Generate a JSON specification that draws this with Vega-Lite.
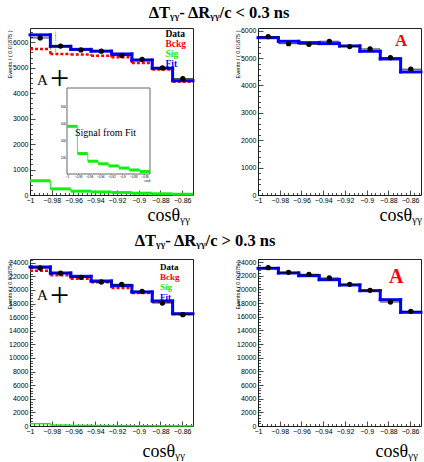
{
"$schema": "https://vega.github.io/schema/vega-lite/v6.json",
"background": "white",
"padding": {"left": 6, "top": 4, "right": 0, "bottom": 0},
"config": {
  "view": {"stroke": "#222222", "strokeWidth": 1},
  "axis": {"domain": false, "grid": false, "labelFont": "Liberation Sans", "labelFontSize": 7, "labelColor": "black", "labelFlush": false, "labelOverlap": false, "tickColor": "black", "tickWidth": 0.7, "titleColor": "black", "titleFontWeight": "normal"},
  "title": {"font": "Liberation Serif", "fontSize": 16.5, "fontWeight": "bold", "color": "black", "anchor": "middle", "offset": 5}
},
"datasets": {
  "tl": [
    {"lo": -1, "hi": -0.98125, "c": -0.990625, "Data": 6170, "Bckg": 5740, "Sig": 560, "Fit": 6290},
    {"lo": -0.98125, "hi": -0.9625, "c": -0.971875, "Data": 5850, "Bckg": 5540, "Sig": 240, "Fit": 5840},
    {"lo": -0.9625, "hi": -0.94375, "c": -0.953125, "Data": 5700, "Bckg": 5520, "Sig": 150, "Fit": 5720},
    {"lo": -0.94375, "hi": -0.925, "c": -0.934375, "Data": 5650, "Bckg": 5470, "Sig": 120, "Fit": 5650},
    {"lo": -0.925, "hi": -0.90625, "c": -0.915625, "Data": 5480, "Bckg": 5410, "Sig": 95, "Fit": 5540},
    {"lo": -0.90625, "hi": -0.8875, "c": -0.896875, "Data": 5330, "Bckg": 5190, "Sig": 70, "Fit": 5300},
    {"lo": -0.8875, "hi": -0.86875, "c": -0.878125, "Data": 4990, "Bckg": 4930, "Sig": 47, "Fit": 4980},
    {"lo": -0.86875, "hi": -0.85, "c": -0.859375, "Data": 4570, "Bckg": 4450, "Sig": 30, "Fit": 4490}
  ],
  "tr": [
    {"lo": -1, "hi": -0.98125, "c": -0.990625, "Data": 5782, "Fit": 5746},
    {"lo": -0.98125, "hi": -0.9625, "c": -0.971875, "Data": 5527, "Fit": 5614},
    {"lo": -0.9625, "hi": -0.94375, "c": -0.953125, "Data": 5505, "Fit": 5565},
    {"lo": -0.94375, "hi": -0.925, "c": -0.934375, "Data": 5615, "Fit": 5530},
    {"lo": -0.925, "hi": -0.90625, "c": -0.915625, "Data": 5420, "Fit": 5445},
    {"lo": -0.90625, "hi": -0.8875, "c": -0.896875, "Data": 5335, "Fit": 5250},
    {"lo": -0.8875, "hi": -0.86875, "c": -0.878125, "Data": 5015, "Fit": 4970},
    {"lo": -0.86875, "hi": -0.85, "c": -0.859375, "Data": 4595, "Fit": 4495}
  ],
  "bl": [
    {"lo": -1, "hi": -0.98125, "c": -0.990625, "Data": 23217, "Bckg": 22820, "Sig": 340, "Fit": 23364},
    {"lo": -0.98125, "hi": -0.9625, "c": -0.971875, "Data": 22450, "Bckg": 22145, "Sig": 130, "Fit": 22482},
    {"lo": -0.9625, "hi": -0.94375, "c": -0.953125, "Data": 21850, "Bckg": 21645, "Sig": 90, "Fit": 21998},
    {"lo": -0.94375, "hi": -0.925, "c": -0.934375, "Data": 21160, "Bckg": 21116, "Sig": 70, "Fit": 21307},
    {"lo": -0.925, "hi": -0.90625, "c": -0.915625, "Data": 20822, "Bckg": 20278, "Sig": 55, "Fit": 20616},
    {"lo": -0.90625, "hi": -0.8875, "c": -0.896875, "Data": 19794, "Bckg": 19544, "Sig": 40, "Fit": 19690},
    {"lo": -0.8875, "hi": -0.86875, "c": -0.878125, "Data": 18074, "Bckg": 18300, "Sig": 30, "Fit": 18368},
    {"lo": -0.86875, "hi": -0.85, "c": -0.859375, "Data": 16355, "Bckg": 16470, "Sig": 20, "Fit": 16502}
  ],
  "br": [
    {"lo": -1, "hi": -0.98125, "c": -0.990625, "Data": 23176, "Fit": 23088},
    {"lo": -0.98125, "hi": -0.9625, "c": -0.971875, "Data": 22502, "Fit": 22400},
    {"lo": -0.9625, "hi": -0.94375, "c": -0.953125, "Data": 22210, "Fit": 22005},
    {"lo": -0.94375, "hi": -0.925, "c": -0.934375, "Data": 21668, "Fit": 21419},
    {"lo": -0.925, "hi": -0.90625, "c": -0.915625, "Data": 20746, "Fit": 20643},
    {"lo": -0.90625, "hi": -0.8875, "c": -0.896875, "Data": 19868, "Fit": 19809},
    {"lo": -0.8875, "hi": -0.86875, "c": -0.878125, "Data": 18154, "Fit": 18491},
    {"lo": -0.86875, "hi": -0.85, "c": -0.859375, "Data": 16793, "Fit": 16646}
  ]
},
"spacing": 8,
"resolve": {"scale": {"color": "independent"}, "legend": {"color": "independent"}},
"vconcat": [
{
  "title": {"text": "ΔTᵧᵧ- ΔRᵧᵧ/c < 0.3 ns", "dx": 4},
  "bounds": "flush",
  "spacing": 65,
  "resolve": {"scale": {"color": "independent"}, "legend": {"color": "independent"}},
  "hconcat": [
    {
      "width": 163, "height": 167,
      "resolve": {"scale": {"x": "independent", "y": "independent"}},
      "layer": [
        {
          "data": {"name": "tl"},
          "transform": [
            {"fold": ["Data", "Bckg", "Sig", "Fit"], "as": ["series", "value"]},
            {"window": [{"op": "lag", "field": "value", "as": "prev"}], "groupby": ["series"], "sort": [{"field": "lo", "order": "ascending"}]}
          ],
          "encoding": {
            "x": {"field": "lo", "type": "quantitative", "scale": {"domain": [-1, -0.85], "nice": false, "zero": false},
              "axis": {"orient": "bottom", "values": [-1,-0.996,-0.992,-0.988,-0.984,-0.98,-0.976,-0.972,-0.968,-0.964,-0.96,-0.956,-0.952,-0.948,-0.944,-0.94,-0.936,-0.932,-0.928,-0.924,-0.92,-0.916,-0.912,-0.908,-0.904,-0.9,-0.896,-0.892,-0.888,-0.884,-0.88,-0.876,-0.872,-0.868,-0.864,-0.86,-0.856,-0.852],
                "format": "~g", "labelExpr": "abs(datum.value*50-round(datum.value*50))<0.01 ? datum.label : ''",
                "tickSize": {"condition": {"test": "abs(datum.value*50-round(datum.value*50))<0.01", "value": -5}, "value": -2.5},
                "labelPadding": 6.5, "labelBaseline": "top",
                "title": "cosθᵧᵧ", "titleFont": "Liberation Serif", "titleFontSize": 18, "titleX": 117, "titleY": 25, "titleAlign": "left", "titleBaseline": "alphabetic"}},
            "y": {"field": "value", "type": "quantitative", "scale": {"domain": [0, 6560], "nice": false},
              "axis": {"orient": "left", "values": [0,200,400,600,800,1000,1200,1400,1600,1800,2000,2200,2400,2600,2800,3000,3200,3400,3600,3800,4000,4200,4400,4600,4800,5000,5200,5400,5600,5800,6000,6200,6400],
                "format": "d", "labelExpr": "datum.value % 1000 === 0 ? datum.label : ''",
                "tickSize": {"condition": {"test": "datum.value % 1000 === 0", "value": -5}, "value": -2.5},
                "labelPadding": 7, "labelBaseline": "middle",
                "title": "Events / ( 0.01875 )", "titleFont": "Liberation Sans", "titleFontSize": 5.5, "titleX": -21, "titleY": 2, "titleAlign": "right", "titleAngle": -90, "titleBaseline": "middle"}},
            "color": {"field": "series", "type": "nominal",
              "scale": {"domain": ["Data", "Bckg", "Sig", "Fit"], "range": ["#000000", "#ff0000", "#11ee11", "#0000ff"]},
              "legend": {"orient": "none", "legendX": 126, "legendY": 1, "title": null, "symbolSize": 0, "symbolOpacity": 0, "symbolStrokeWidth": 0, "labelOffset": 0, "padding": 0, "rowPadding": -2.3,
                "labelFont": "Liberation Serif", "labelFontWeight": "bold", "labelFontSize": 9.5,
                "encode": {"labels": {"update": {"fill": {"signal": "datum.value === 'Data' ? '#000000' : datum.value === 'Bckg' ? '#ff0000' : datum.value === 'Sig' ? '#11ee11' : '#0000ff'"}}}}}}
          },
          "layer": [
            {"transform": [{"filter": "datum.series === 'Bckg'"}], "mark": {"type": "rule", "strokeWidth": 2.5, "strokeDash": [3, 2]}, "encoding": {"x2": {"field": "hi"}}},
            {"transform": [{"filter": "datum.series === 'Bckg' && datum.prev != null"}], "mark": {"type": "rule", "strokeWidth": 2.5, "strokeDash": [3, 2]}, "encoding": {"y2": {"field": "prev"}}},
            {"transform": [{"filter": "datum.series === 'Sig'"}], "mark": {"type": "rule", "strokeWidth": 3}, "encoding": {"x2": {"field": "hi"}}},
            {"transform": [{"filter": "datum.series === 'Sig' && datum.prev != null"}], "mark": {"type": "rule", "strokeWidth": 1}, "encoding": {"y2": {"field": "prev"}}},
            {"transform": [{"filter": "datum.series === 'Fit'"}], "mark": {"type": "rule", "strokeWidth": 3, "strokeCap": "square"}, "encoding": {"x2": {"field": "hi"}}},
            {"transform": [{"filter": "datum.series === 'Fit' && datum.prev != null"}], "mark": {"type": "rule", "strokeWidth": 3, "strokeCap": "square"}, "encoding": {"y2": {"field": "prev"}}},
            {"transform": [{"filter": "datum.series === 'Data'"}], "mark": {"type": "rule", "strokeWidth": 0.8}, "encoding": {"x2": {"field": "hi"}}},
            {"transform": [{"filter": "datum.series === 'Data'"}], "mark": {"type": "point", "filled": true, "size": 28, "opacity": 1}, "encoding": {"x": {"field": "c", "type": "quantitative"}}},
            {"transform": [{"filter": "datum.series === 'Data' && datum.lo === -1"}], "mark": {"type": "text", "text": "A", "font": "Liberation Serif", "fontSize": 15, "align": "left", "baseline": "alphabetic"}, "encoding": {"x": {"datum": -0.9936}, "y": {"datum": 4340}}},
            {"transform": [{"filter": "datum.series === 'Data' && datum.lo === -1"}], "mark": {"type": "text", "text": "+", "font": "Liberation Serif", "fontSize": 34, "align": "center", "baseline": "middle"}, "encoding": {"x": {"datum": -0.9727}, "y": {"datum": 4560}}}
          ]
        },
        {
          "data": {"name": "tl"},
          "transform": [{"window": [{"op": "lag", "field": "Sig", "as": "prevSig"}], "sort": [{"field": "lo", "order": "ascending"}]}],
          "encoding": {
            "x": {"field": "lo", "type": "quantitative", "scale": {"domain": [-1, -0.85], "nice": false, "zero": false, "range": [37, 120]},
              "axis": {"orient": "bottom", "offset": -21, "values": [-1,-0.98,-0.96,-0.94,-0.92,-0.9,-0.88,-0.86], "format": "~g", "labelFontSize": 3, "tickSize": -2, "labelPadding": 3.5, "labelBaseline": "top",
                "title": "cosθ", "titleFont": "Liberation Sans", "titleFontSize": 3, "titleAnchor": "end", "titlePadding": 1}},
            "y": {"field": "Sig", "type": "quantitative", "scale": {"domain": [0, 1010], "nice": false, "range": [146, 60]},
              "axis": {"orient": "left", "offset": -37, "values": [200,400,600,800], "format": "d", "labelFontSize": 3, "tickSize": -2, "labelPadding": 3.5,
                "title": "Events / ( 0.01875 )", "titleFont": "Liberation Sans", "titleFontSize": 2.5, "titleX": -12, "titleY": 2, "titleAlign": "right", "titleAngle": -90, "titleBaseline": "middle"}}
          },
          "layer": [
            {"transform": [{"filter": "datum.lo === -1"}], "mark": {"type": "rect", "fill": "white", "stroke": "#666666", "strokeWidth": 1}, "encoding": {"x": {"datum": -1}, "x2": {"datum": -0.85}, "y": {"datum": 0}, "y2": {"datum": 1010}}},
            {"mark": {"type": "rule", "strokeWidth": 3, "color": "#11ee11"}, "encoding": {"x2": {"field": "hi"}}},
            {"transform": [{"filter": "datum.prevSig != null"}], "mark": {"type": "rule", "strokeWidth": 0.8, "color": "#11ee11"}, "encoding": {"y2": {"field": "prevSig"}}},
            {"transform": [{"filter": "datum.lo === -1"}], "mark": {"type": "text", "text": "Signal from Fit", "font": "Liberation Serif", "fontSize": 10, "align": "left", "baseline": "alphabetic", "color": "black"}, "encoding": {"x": {"datum": -0.9855}, "y": {"datum": 446}}}
          ]
        }
      ]
    },
    {
      "width": 163, "height": 167,
      "data": {"name": "tr"},
      "transform": [
        {"fold": ["Data", "Fit"], "as": ["series", "value"]},
        {"window": [{"op": "lag", "field": "value", "as": "prev"}], "groupby": ["series"], "sort": [{"field": "lo", "order": "ascending"}]}
      ],
      "encoding": {
        "x": {"field": "lo", "type": "quantitative", "scale": {"domain": [-1, -0.85], "nice": false, "zero": false},
          "axis": {"orient": "bottom", "values": [-1,-0.996,-0.992,-0.988,-0.984,-0.98,-0.976,-0.972,-0.968,-0.964,-0.96,-0.956,-0.952,-0.948,-0.944,-0.94,-0.936,-0.932,-0.928,-0.924,-0.92,-0.916,-0.912,-0.908,-0.904,-0.9,-0.896,-0.892,-0.888,-0.884,-0.88,-0.876,-0.872,-0.868,-0.864,-0.86,-0.856,-0.852],
            "format": "~g", "labelExpr": "abs(datum.value*50-round(datum.value*50))<0.01 ? datum.label : ''",
            "tickSize": {"condition": {"test": "abs(datum.value*50-round(datum.value*50))<0.01", "value": -5}, "value": -2.5},
            "labelPadding": 6.5, "labelBaseline": "top",
            "title": "cosθᵧᵧ", "titleFont": "Liberation Serif", "titleFontSize": 18, "titleX": 121, "titleY": 25, "titleAlign": "left", "titleBaseline": "alphabetic"}},
        "y": {"field": "value", "type": "quantitative", "scale": {"domain": [0, 6100], "nice": false},
          "axis": {"orient": "left", "values": [0,200,400,600,800,1000,1200,1400,1600,1800,2000,2200,2400,2600,2800,3000,3200,3400,3600,3800,4000,4200,4400,4600,4800,5000,5200,5400,5600,5800,6000],
            "format": "d", "labelExpr": "datum.value % 1000 === 0 ? datum.label : ''",
            "tickSize": {"condition": {"test": "datum.value % 1000 === 0", "value": -5}, "value": -2.5},
            "labelPadding": 7, "labelBaseline": "middle",
            "title": "Events / ( 0.01875 )", "titleFont": "Liberation Sans", "titleFontSize": 5.5, "titleX": -21, "titleY": 2, "titleAlign": "right", "titleAngle": -90, "titleBaseline": "middle"}}
      },
      "layer": [
        {"transform": [{"filter": "datum.series === 'Fit'"}], "mark": {"type": "rule", "strokeWidth": 3, "strokeCap": "square", "color": "#0000ff"}, "encoding": {"x2": {"field": "hi"}}},
        {"transform": [{"filter": "datum.series === 'Fit' && datum.prev != null"}], "mark": {"type": "rule", "strokeWidth": 3, "strokeCap": "square", "color": "#0000ff"}, "encoding": {"y2": {"field": "prev"}}},
        {"transform": [{"filter": "datum.series === 'Data'"}], "mark": {"type": "rule", "strokeWidth": 0.8, "color": "black"}, "encoding": {"x2": {"field": "hi"}}},
        {"transform": [{"filter": "datum.series === 'Data'"}], "mark": {"type": "point", "filled": true, "size": 28, "opacity": 1, "color": "black"}, "encoding": {"x": {"field": "c", "type": "quantitative"}}},
        {"transform": [{"filter": "datum.series === 'Data' && datum.lo === -1"}], "mark": {"type": "text", "text": "A", "font": "Liberation Serif", "fontWeight": "bold", "fontSize": 17, "color": "#ff0000", "align": "left", "baseline": "alphabetic"}, "encoding": {"x": {"datum": -0.874}, "y": {"datum": 5443}}}
      ]
    }
  ]
},
{
  "title": {"text": "ΔTᵧᵧ- ΔRᵧᵧ/c > 0.3 ns", "dx": -10},
  "bounds": "flush",
  "spacing": 65,
  "resolve": {"scale": {"color": "independent"}, "legend": {"color": "independent"}},
  "hconcat": [
    {
      "width": 163, "height": 167,
      "data": {"name": "bl"},
      "transform": [
        {"fold": ["Data", "Bckg", "Sig", "Fit"], "as": ["series", "value"]},
        {"window": [{"op": "lag", "field": "value", "as": "prev"}], "groupby": ["series"], "sort": [{"field": "lo", "order": "ascending"}]}
      ],
      "encoding": {
        "x": {"field": "lo", "type": "quantitative", "scale": {"domain": [-1, -0.85], "nice": false, "zero": false},
          "axis": {"orient": "bottom", "values": [-1,-0.996,-0.992,-0.988,-0.984,-0.98,-0.976,-0.972,-0.968,-0.964,-0.96,-0.956,-0.952,-0.948,-0.944,-0.94,-0.936,-0.932,-0.928,-0.924,-0.92,-0.916,-0.912,-0.908,-0.904,-0.9,-0.896,-0.892,-0.888,-0.884,-0.88,-0.876,-0.872,-0.868,-0.864,-0.86,-0.856,-0.852],
            "format": "~g", "labelExpr": "abs(datum.value*50-round(datum.value*50))<0.01 ? datum.label : ''",
            "tickSize": {"condition": {"test": "abs(datum.value*50-round(datum.value*50))<0.01", "value": -5}, "value": -2.5},
            "labelPadding": 6.5, "labelBaseline": "top",
            "title": "cosθᵧᵧ", "titleFont": "Liberation Serif", "titleFontSize": 18, "titleX": 112, "titleY": 30, "titleAlign": "left", "titleBaseline": "alphabetic"}},
        "y": {"field": "value", "type": "quantitative", "scale": {"domain": [0, 24540], "nice": false},
          "axis": {"orient": "left", "values": [0,400,800,1200,1600,2000,2400,2800,3200,3600,4000,4400,4800,5200,5600,6000,6400,6800,7200,7600,8000,8400,8800,9200,9600,10000,10400,10800,11200,11600,12000,12400,12800,13200,13600,14000,14400,14800,15200,15600,16000,16400,16800,17200,17600,18000,18400,18800,19200,19600,20000,20400,20800,21200,21600,22000,22400,22800,23200,23600,24000,24400],
            "format": "d", "labelExpr": "datum.value % 2000 === 0 ? datum.label : ''",
            "tickSize": {"condition": {"test": "datum.value % 2000 === 0", "value": -5}, "value": -2.5},
            "labelPadding": 7, "labelBaseline": "middle",
            "title": "Events / ( 0.01875 )", "titleFont": "Liberation Sans", "titleFontSize": 5.5, "titleX": -21, "titleY": 2, "titleAlign": "right", "titleAngle": -90, "titleBaseline": "middle"}},
        "color": {"field": "series", "type": "nominal",
          "scale": {"domain": ["Data", "Bckg", "Sig", "Fit"], "range": ["#000000", "#ff0000", "#11ee11", "#0000ff"]},
          "legend": {"orient": "none", "legendX": 121, "legendY": 3, "title": null, "symbolSize": 0, "symbolOpacity": 0, "symbolStrokeWidth": 0, "labelOffset": 0, "padding": 0, "rowPadding": -2,
            "labelFont": "Liberation Serif", "labelFontWeight": "bold", "labelFontSize": 9,
            "encode": {"labels": {"update": {"fill": {"signal": "datum.value === 'Data' ? '#000000' : datum.value === 'Bckg' ? '#ff0000' : datum.value === 'Sig' ? '#11ee11' : '#0000ff'"}}}}}}
      },
      "layer": [
        {"transform": [{"filter": "datum.series === 'Bckg'"}], "mark": {"type": "rule", "strokeWidth": 2.5, "strokeDash": [3, 2]}, "encoding": {"x2": {"field": "hi"}}},
        {"transform": [{"filter": "datum.series === 'Bckg' && datum.prev != null"}], "mark": {"type": "rule", "strokeWidth": 2.5, "strokeDash": [3, 2]}, "encoding": {"y2": {"field": "prev"}}},
        {"transform": [{"filter": "datum.series === 'Sig'"}], "mark": {"type": "rule", "strokeWidth": 1.5}, "encoding": {"x2": {"field": "hi"}}},
        {"transform": [{"filter": "datum.series === 'Sig' && datum.prev != null"}], "mark": {"type": "rule", "strokeWidth": 1}, "encoding": {"y2": {"field": "prev"}}},
        {"transform": [{"filter": "datum.series === 'Fit'"}], "mark": {"type": "rule", "strokeWidth": 3, "strokeCap": "square"}, "encoding": {"x2": {"field": "hi"}}},
        {"transform": [{"filter": "datum.series === 'Fit' && datum.prev != null"}], "mark": {"type": "rule", "strokeWidth": 3, "strokeCap": "square"}, "encoding": {"y2": {"field": "prev"}}},
        {"transform": [{"filter": "datum.series === 'Data'"}], "mark": {"type": "rule", "strokeWidth": 0.8}, "encoding": {"x2": {"field": "hi"}}},
        {"transform": [{"filter": "datum.series === 'Data'"}], "mark": {"type": "point", "filled": true, "size": 28, "opacity": 1}, "encoding": {"x": {"field": "c", "type": "quantitative"}}},
        {"transform": [{"filter": "datum.series === 'Data' && datum.lo === -1"}], "mark": {"type": "text", "text": "A", "font": "Liberation Serif", "fontSize": 15, "align": "left", "baseline": "alphabetic"}, "encoding": {"x": {"datum": -0.9936}, "y": {"datum": 18500}}},
        {"transform": [{"filter": "datum.series === 'Data' && datum.lo === -1"}], "mark": {"type": "text", "text": "+", "font": "Liberation Serif", "fontSize": 34, "align": "center", "baseline": "middle"}, "encoding": {"x": {"datum": -0.9727}, "y": {"datum": 19150}}}
      ]
    },
    {
      "width": 163, "height": 167,
      "data": {"name": "br"},
      "transform": [
        {"fold": ["Data", "Fit"], "as": ["series", "value"]},
        {"window": [{"op": "lag", "field": "value", "as": "prev"}], "groupby": ["series"], "sort": [{"field": "lo", "order": "ascending"}]}
      ],
      "encoding": {
        "x": {"field": "lo", "type": "quantitative", "scale": {"domain": [-1, -0.85], "nice": false, "zero": false},
          "axis": {"orient": "bottom", "values": [-1,-0.996,-0.992,-0.988,-0.984,-0.98,-0.976,-0.972,-0.968,-0.964,-0.96,-0.956,-0.952,-0.948,-0.944,-0.94,-0.936,-0.932,-0.928,-0.924,-0.92,-0.916,-0.912,-0.908,-0.904,-0.9,-0.896,-0.892,-0.888,-0.884,-0.88,-0.876,-0.872,-0.868,-0.864,-0.86,-0.856,-0.852],
            "format": "~g", "labelExpr": "abs(datum.value*50-round(datum.value*50))<0.01 ? datum.label : ''",
            "tickSize": {"condition": {"test": "abs(datum.value*50-round(datum.value*50))<0.01", "value": -5}, "value": -2.5},
            "labelPadding": 6.5, "labelBaseline": "top",
            "title": "cosθᵧᵧ", "titleFont": "Liberation Serif", "titleFontSize": 18, "titleX": 117, "titleY": 30, "titleAlign": "left", "titleBaseline": "alphabetic"}},
        "y": {"field": "value", "type": "quantitative", "scale": {"domain": [0, 24450], "nice": false},
          "axis": {"orient": "left", "values": [0,400,800,1200,1600,2000,2400,2800,3200,3600,4000,4400,4800,5200,5600,6000,6400,6800,7200,7600,8000,8400,8800,9200,9600,10000,10400,10800,11200,11600,12000,12400,12800,13200,13600,14000,14400,14800,15200,15600,16000,16400,16800,17200,17600,18000,18400,18800,19200,19600,20000,20400,20800,21200,21600,22000,22400,22800,23200,23600,24000,24400],
            "format": "d", "labelExpr": "datum.value % 2000 === 0 ? datum.label : ''",
            "tickSize": {"condition": {"test": "datum.value % 2000 === 0", "value": -5}, "value": -2.5},
            "labelPadding": 7, "labelBaseline": "middle",
            "title": "Events / ( 0.01875 )", "titleFont": "Liberation Sans", "titleFontSize": 5.5, "titleX": -21, "titleY": 2, "titleAlign": "right", "titleAngle": -90, "titleBaseline": "middle"}}
      },
      "layer": [
        {"transform": [{"filter": "datum.series === 'Fit'"}], "mark": {"type": "rule", "strokeWidth": 3, "strokeCap": "square", "color": "#0000ff"}, "encoding": {"x2": {"field": "hi"}}},
        {"transform": [{"filter": "datum.series === 'Fit' && datum.prev != null"}], "mark": {"type": "rule", "strokeWidth": 3, "strokeCap": "square", "color": "#0000ff"}, "encoding": {"y2": {"field": "prev"}}},
        {"transform": [{"filter": "datum.series === 'Data'"}], "mark": {"type": "rule", "strokeWidth": 0.8, "color": "black"}, "encoding": {"x2": {"field": "hi"}}},
        {"transform": [{"filter": "datum.series === 'Data'"}], "mark": {"type": "point", "filled": true, "size": 28, "opacity": 1, "color": "black"}, "encoding": {"x": {"field": "c", "type": "quantitative"}}},
        {"transform": [{"filter": "datum.series === 'Data' && datum.lo === -1"}], "mark": {"type": "text", "text": "A", "font": "Liberation Serif", "fontWeight": "bold", "fontSize": 20, "color": "#ff0000", "align": "left", "baseline": "alphabetic"}, "encoding": {"x": {"datum": -0.8795}, "y": {"datum": 20936}}}
      ]
    }
  ]
}
]
}
